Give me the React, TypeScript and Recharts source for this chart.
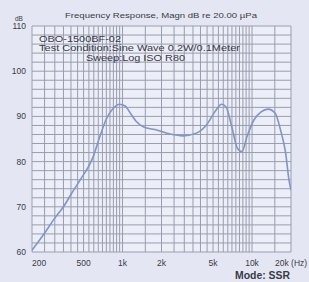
import React from 'react';
import { LineChart, Line, XAxis, YAxis, CartesianGrid } from 'recharts';

const freqs = [200, 245, 300, 350, 405, 470, 594, 668, 755, 849, 948, 1048, 1175, 1284, 1444, 1835, 2328, 2931, 3712, 4448, 5163, 5827, 6300, 6980, 7720, 8360, 9140, 10340, 11750, 13320, 15100, 16600, 18200, 19300, 20000];
const spl = [60.4, 63.8, 67.5, 70.0, 73.0, 75.9, 81.1, 85.5, 89.6, 91.8, 92.7, 92.3, 90.3, 88.8, 87.7, 87.0, 86.1, 85.7, 86.3, 88.1, 91.0, 92.7, 92.1, 87.7, 82.9, 82.2, 85.5, 89.2, 91.0, 91.6, 90.7, 87.0, 81.8, 75.9, 73.7];

const xGridTicks = [200, 250, 300, 350, 400, 450, 500, 550, 600, 650, 700, 750, 800, 850, 900, 950, 1000,
  1500, 2000, 2500, 3000, 3500, 4000, 4500, 5000, 5500, 6000, 6500, 7000, 7500, 8000, 8500, 9000, 9500, 10000,
  15000, 20000];
const xLabelTicks = [200, 500, 1000, 2000, 5000, 10000, 20000];
const xLabelTexts = ['200', '500', '1k', '2k', '5k', '10k', '20k (Hz)'];
const yGridTicks = [60, 62, 64, 66, 68, 70, 72, 74, 76, 78, 80, 82, 84, 86, 88, 90, 92, 94, 96, 98, 100, 102, 104, 106, 108, 110];
const yLabelTicks = [60, 70, 80, 90, 100, 110];

const data = freqs.map((f, i) => ({ f, v: spl[i] }));

const FONT = '"Liberation Sans", Arial, sans-serif';
const TEXT = '#3a3a44';

const XTick = (props: any) => {
  const { x, y, payload } = props;
  const idx = xLabelTicks.indexOf(payload.value);
  if (idx < 0) return null;
  let anchor: 'middle' | 'start' | 'end' = 'middle';
  let dx = 0;
  if (idx === 0) { anchor = 'start'; dx = 0; }
  if (idx === xLabelTicks.length - 1) { anchor = 'start'; dx = -16; }
  return (
    <text x={x + dx} y={y + 6} textAnchor={anchor} fontSize={8.5} fontFamily={FONT} fill={TEXT}>
      {xLabelTexts[idx]}
    </text>
  );
};

const YTick = (props: any) => {
  const { x, y, payload } = props;
  if (yLabelTicks.indexOf(payload.value) < 0) return null;
  return (
    <text x={x} y={y + 3} textAnchor="end" fontSize={8.5} fontFamily={FONT} fill={TEXT}>
      {payload.value}
    </text>
  );
};

export default function App() {
  return (
    <div style={{ position: 'absolute', left: 0, top: 0, width: 309, height: 282, background: '#e4e7f3' }}>
      <LineChart width={309} height={282} data={data} margin={{ top: 26, right: 18, bottom: 0, left: 0 }}>
        <CartesianGrid stroke="#9a9dae" strokeWidth={1} fill="#eceef8" fillOpacity={1} />
        <XAxis
          dataKey="f"
          type="number"
          scale="log"
          domain={[200, 20000]}
          ticks={xGridTicks}
          interval={0}
          tick={<XTick />}
          tickLine={false}
          axisLine={false}
          height={30}
          allowDataOverflow
        />
        <YAxis
          type="number"
          domain={[60, 110]}
          ticks={yGridTicks}
          interval={0}
          tick={<YTick />}
          tickLine={false}
          axisLine={false}
          tickSize={0}
          tickMargin={6}
          width={32}
          allowDataOverflow
        />
        <Line
          type="monotone"
          dataKey="v"
          stroke="#8295c6"
          strokeWidth={1.6}
          dot={false}
          isAnimationActive={false}
        />
      </LineChart>
      <svg width={309} height={282} style={{ position: 'absolute', left: 0, top: 0, pointerEvents: 'none' }}>
        <text x={65} y={17.5} fontSize={8} fontFamily={FONT} fill={TEXT} textLength={192} lengthAdjust="spacingAndGlyphs">
          Frequency Response, Magn dB re 20.00 µPa
        </text>
        <text x={15} y={21} fontSize={6.5} fontFamily={FONT} fill={TEXT}>dB</text>
        <text x={39} y={41.5} fontSize={9} fontFamily={FONT} fill={TEXT} textLength={82} lengthAdjust="spacingAndGlyphs">
          OBO-1500BF-02
        </text>
        <text x={39} y={51} fontSize={9} fontFamily={FONT} fill={TEXT} textLength={201} lengthAdjust="spacingAndGlyphs">
          Test Condition:Sine Wave 0.2W/0.1Meter
        </text>
        <text x={86} y={61} fontSize={9} fontFamily={FONT} fill={TEXT} textLength={99} lengthAdjust="spacingAndGlyphs">
          Sweep:Log ISO R80
        </text>
        <text x={235} y={279} fontSize={10} fontWeight="bold" fontFamily={FONT} fill={TEXT} textLength={55} lengthAdjust="spacingAndGlyphs">
          Mode: SSR
        </text>
      </svg>
    </div>
  );
}
